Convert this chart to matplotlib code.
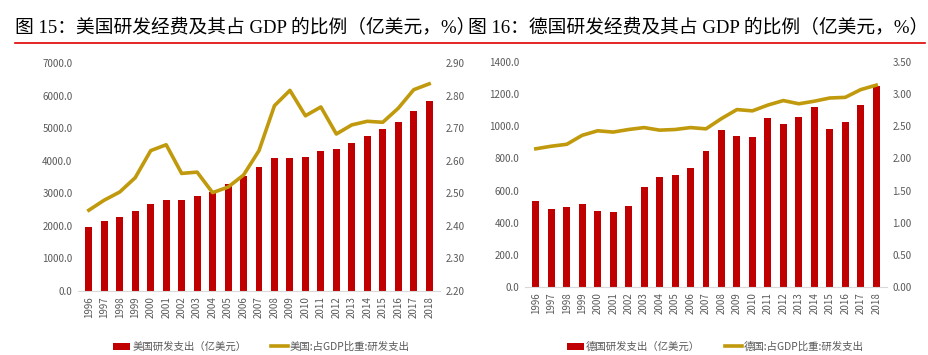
import matplotlib
matplotlib.use('Agg')
import matplotlib.pyplot as plt
import numpy as np

plt.rcParams['font.family'] = ['Noto Sans CJK SC', 'DejaVu Sans']

# data
years = [str(y) for y in range(1996, 2019)]
us_rd = [1960, 2140, 2265, 2450, 2675, 2790, 2790, 2930, 3050, 3290, 3536,
         3792, 4070, 4070, 4100, 4295, 4345, 4540, 4765, 4960, 5185, 5515, 5840]
us_share = [2.448, 2.479, 2.504, 2.548, 2.631, 2.649, 2.561, 2.565, 2.502,
            2.519, 2.556, 2.631, 2.769, 2.816, 2.738, 2.765, 2.682, 2.710,
            2.721, 2.718, 2.761, 2.818, 2.836]
de_rd = [537, 483, 498, 514, 471, 467, 502, 620, 687, 699, 743, 846, 979,
         938, 931, 1054, 1016, 1060, 1120, 983, 1025, 1133, 1251]
de_share = [2.15, 2.19, 2.22, 2.36, 2.43, 2.41, 2.45, 2.48, 2.44, 2.45, 2.48,
            2.46, 2.62, 2.76, 2.74, 2.83, 2.90, 2.85, 2.89, 2.94, 2.95, 3.07, 3.14]

titles = ['图 15：美国研发经费及其占 GDP 的比例（亿美元，%）',
          '图 16：德国研发经费及其占 GDP 的比例（亿美元，%）']
bar_labels = ['美国研发支出（亿美元）', '德国研发支出（亿美元）']
line_labels = ['美国:占GDP比重:研发支出', '德国:占GDP比重:研发支出']

RED = '#C00000'
GOLD = '#C09A0C'
GRAY = '#595959'

W, H = 929, 355
fig = plt.figure(figsize=(W / 100, H / 100), dpi=100)

def box(x0, y0, x1, y1):
    return [x0 / W, 1 - y1 / H, (x1 - x0) / W, (y1 - y0) / H]

panels = [
    dict(rect=box(78, 63, 440, 291), bars=us_rd, line=us_share,
         ylim=(0, 7000), yticks=np.arange(0, 7001, 1000),
         y2lim=(2.2, 2.9), y2ticks=np.arange(2.2, 2.901, 0.1),
         leg=(104, 347)),
    dict(rect=box(525, 62, 887, 287), bars=de_rd, line=de_share,
         ylim=(0, 1400), yticks=np.arange(0, 1401, 200),
         y2lim=(0, 3.5), y2ticks=np.arange(0, 3.501, 0.5),
         leg=(558, 347)),
]

x = np.arange(len(years))
for i, p in enumerate(panels):
    ax = fig.add_axes(p['rect'])
    b = ax.bar(x, p['bars'], width=0.45, color=RED, label=bar_labels[i])
    ax.set_ylim(*p['ylim'])
    ax.set_yticks(p['yticks'])
    ax.set_yticklabels(['%.1f' % v for v in p['yticks']])
    ax.set_xlim(-0.7, len(years) - 0.3)
    ax.set_xticks(x)
    ax.set_xticklabels(years, rotation=90)
    ax2 = ax.twinx()
    l, = ax2.plot(x, p['line'], color=GOLD, lw=2.6, label=line_labels[i])
    ax2.set_ylim(*p['y2lim'])
    ax2.set_yticks(p['y2ticks'])
    ax2.set_yticklabels(['%.2f' % v for v in p['y2ticks']])
    for a in (ax, ax2):
        for s in a.spines.values():
            s.set_visible(False)
        a.tick_params(length=0, labelsize=7, colors=GRAY, pad=4)
    ax.spines['bottom'].set_visible(True)
    ax.spines['bottom'].set_color('#D9D9D9')
    lx, ly = p['leg']
    fig.legend([b, l], [bar_labels[i], line_labels[i]], loc='center left',
               bbox_to_anchor=(lx / W, 1 - ly / H), ncol=2, frameon=False,
               fontsize=7.5, labelcolor=GRAY, handlelength=1.6,
               columnspacing=2.4, handletextpad=0.2)

# titles and red rule
tfam = ['Liberation Serif', 'Noto Sans CJK SC']
fig.text(15 / W, 1 - 28 / H, titles[0], fontsize=13.5, va='center', ha='left',
         family=tfam)
fig.text(468 / W, 1 - 28 / H, titles[1], fontsize=13.5, va='center', ha='left',
         family=tfam)
fig.add_artist(plt.Line2D([15 / W, 925 / W], [1 - 43 / H, 1 - 43 / H],
                          color='#E00000', lw=1.2))

fig.savefig('out.png', dpi=100)
